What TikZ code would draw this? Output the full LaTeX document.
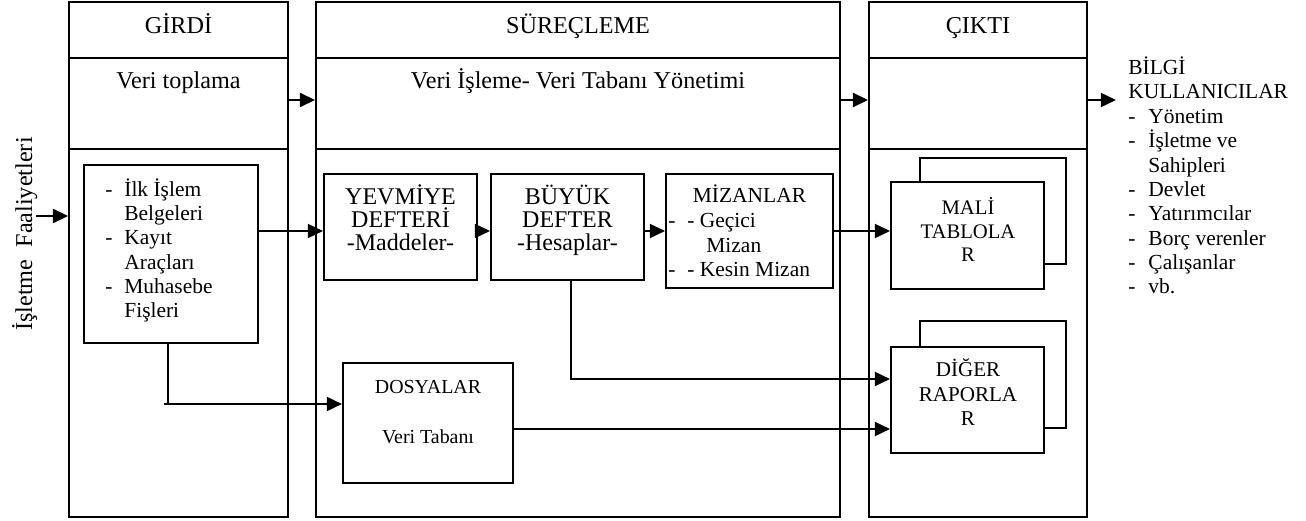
\documentclass[tikz,border=0pt]{standalone}
\usepackage{fontspec}
\setmainfont{Liberation Serif}
\usetikzlibrary{arrows.meta,fit}
% list entry with a leading dash in a fixed-width slot
\newcommand\litem[2]{\makebox[#1][l]{-}#2}
\newcommand\lcont[2]{\makebox[#1]{}#2}
\begin{document}
\begin{tikzpicture}[x=0.5128pt,y=-0.5128pt,
  col/.style={draw, line width=0.95pt, inner sep=0pt},
  box/.style={draw, line width=1.05pt, fill=white, inner sep=0pt},
  lbl/.style={inner sep=0pt, anchor=base, align=center},
  list/.style={inner sep=0pt, anchor=base west, align=left},
  arr/.style={line width=1.05pt, -{Triangle[length=7.8pt,width=7.2pt]}},
  wire/.style={line width=1.05pt},
  big/.style={font=\fontsize{12.4}{14}\selectfont},
  mid/.style={font=\fontsize{11}{12.5}\selectfont},
]
\useasboundingbox (0,0) rectangle (1306,521);

% three columns, each split into header / process row / detail area
\node[col, fit={(69,2) (288,58)}]    (gh) {};
\node[col, fit={(69,58) (288,149)}]  (gm) {};
\node[col, fit={(69,149) (288,517)}] (gb) {};
\node[col, fit={(316,2) (840,58)}]    (sh) {};
\node[col, fit={(316,58) (840,149)}]  (sm) {};
\node[col, fit={(316,149) (840,517)}] (sb) {};
\node[col, fit={(869,2) (1087,58)}]    (ch) {};
\node[col, fit={(869,58) (1087,149)}]  (cm) {};
\node[col, fit={(869,149) (1087,517)}] (cb) {};

\node[lbl, big] (ght) at (178.5,34) {GİRDİ};
\node[lbl, big] (sht) at (578,34) {SÜREÇLEME};
\node[lbl, big] (cht) at (978,34) {ÇIKTI};
\node[lbl, big] (gmt) at (178.5,89) {Veri toplama};
\node[lbl, big] (smt) at (578,89) {Veri İşleme- Veri Tabanı Yönetimi};

% side label
\node[inner sep=0pt, anchor=base, rotate=90, big] (act) at (32,234) {İşletme\ \ Faaliyetleri};

% source documents (multi-line nodes sit on the baseline of their last line)
\node[box, fit={(84,165) (258,343)}] (ib) {};
\node[list, mid] (ibt) at (105,318) {\litem{9.74pt}{İlk İşlem}\\\lcont{9.74pt}{Belgeleri}\\
  \litem{9.74pt}{Kayıt}\\\lcont{9.74pt}{Araçları}\\\litem{9.74pt}{Muhasebe}\\\lcont{9.74pt}{Fişleri}};

% books
\node[box, fit={(324,174) (477,280)}] (yev) {};
\node[lbl, font=\fontsize{12.3}{11.8}\selectfont] (yevt) at (400.5,251) {YEVMİYE\\DEFTERİ\\-Maddeler-};
\node[box, fit={(491,174) (644,280)}] (buy) {};
\node[lbl, font=\fontsize{12.3}{11.8}\selectfont] (buyt) at (567.5,251) {BÜYÜK\\DEFTER\\-Hesaplar-};
\node[box, fit={(666,174) (833,288)}] (miz) {};
\node[lbl, mid] (mizt) at (749.5,203) {MİZANLAR};
\node[list, font=\fontsize{11}{12.6}\selectfont] (mizl) at (668,277)
  {\litem{9.7pt}{- Geçici}\\\lcont{19.5pt}{Mizan}\\\litem{9.7pt}{- Kesin Mizan}};

% files
\node[box, fit={(343,363) (513,483)}] (dos) {};
\node[lbl, font=\fontsize{10.2}{25.6}\selectfont] (dost) at (428,443) {DOSYALAR\\Veri Tabanı};

% stacked reports
\node[box, fit={(920,158) (1066,264)}] (maliB) {};
\node[box, fit={(891,182) (1044,289)}] (mali) {};
\node[lbl, font=\fontsize{10.6}{12.1}\selectfont] (malit) at (968,262) {MALİ\\TABLOLA\\R};
\node[box, fit={(920,321) (1066,428)}] (digB) {};
\node[box, fit={(891,347) (1044,453)}] (dig) {};
\node[lbl, font=\fontsize{10.8}{12.8}\selectfont] (digt) at (968,426) {DİĞER\\RAPORLA\\R};

% users of the information
\node[list, font=\fontsize{11}{12.5}\selectfont] (usr) at (1128,294)
  {BİLGİ\\KULLANICILAR\\\litem{10.3pt}{Yönetim}\\\litem{10.3pt}{İşletme ve}\\\lcont{10.3pt}{Sahipleri}\\
   \litem{10.3pt}{Devlet}\\\litem{10.3pt}{Yatırımcılar}\\\litem{10.3pt}{Borç verenler}\\
   \litem{10.3pt}{Çalışanlar}\\\litem{10.3pt}{vb.}};

% connectors
\coordinate (src) at (36,216);
\coordinate (out) at (1116,100);
\coordinate (jn) at (168,404);
\coordinate (jl) at (164,404);
\draw[arr] (src) -- (gb.west |- src);
\draw[arr] (gm.east |- out) -- (sm.west |- out);
\draw[arr] (sm.east |- out) -- (cm.west |- out);
\draw[arr] (cm.east |- out) -- (out);
\draw[arr] (ib.east |- 0,231) -- (yev.west |- 0,231);
\draw[arr] (yev.east |- 0,231) -- (buy.west |- 0,231);
\draw[arr] (buy.east |- 0,231) -- (miz.west |- 0,231);
\draw[arr] (miz.east |- 0,231) -- (mali.west |- 0,231);
\draw[arr] (buy.south -| 571,0) |- (dig.west |- 0,379);
\draw[wire] (ib.south -| jn) -- (jn);
\draw[arr] (jl) -- (dos.west |- jl);
\draw[arr] (dos.east |- 0,429) -- (dig.west |- 0,429);
\end{tikzpicture}
\end{document}
